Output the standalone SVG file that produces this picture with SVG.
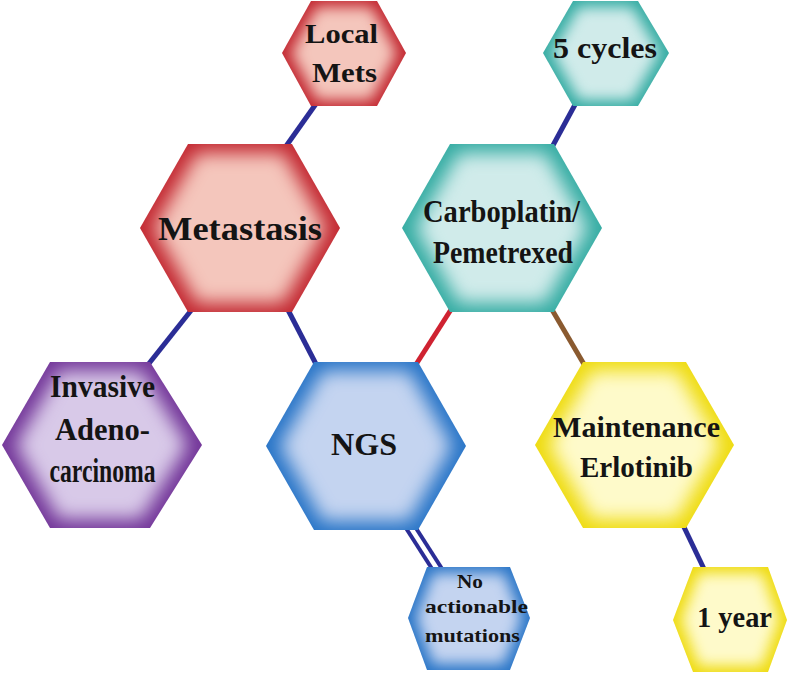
<svg xmlns="http://www.w3.org/2000/svg" width="800" height="675" viewBox="0 0 800 675">
<defs>
<filter id="inner" x="-5%" y="-5%" width="110%" height="110%" color-interpolation-filters="sRGB">
<feMorphology in="SourceGraphic" operator="erode" radius="9" result="e"/>
<feGaussianBlur in="e" stdDeviation="9" result="b"/>
<feComposite in="b" in2="SourceAlpha" operator="in"/>
</filter>
<filter id="inner-s" x="-5%" y="-5%" width="110%" height="110%" color-interpolation-filters="sRGB">
<feMorphology in="SourceGraphic" operator="erode" radius="6" result="e"/>
<feGaussianBlur in="e" stdDeviation="7" result="b"/>
<feComposite in="b" in2="SourceAlpha" operator="in"/>
</filter>
</defs>
<style>
.lbl{font-family:"Liberation Serif","Times New Roman",serif;font-weight:bold;fill:#141414;text-anchor:middle}
.edge{fill:none;stroke-linecap:butt}
.blue{stroke:#2b2d96;stroke-width:5}
.dbl{stroke:#2b2d96;stroke-width:4}
.red{stroke:#cf2231;stroke-width:5}
.brown{stroke:#8a5a30;stroke-width:5}
.red-e{fill:#c42a33}.red-i{fill:#f4c6bc}
.pur-e{fill:#74379a}.pur-i{fill:#d8c9e8}
.blu-e{fill:#2a76c8}.blu-i{fill:#c4d4f0}
.tea-e{fill:#36ada4}.tea-i{fill:#d0ebea}
.yel-e{fill:#efdc10}.yel-i{fill:#fefaca}
</style>
<rect width="800" height="675" fill="#ffffff"/>
<g id="connectors">
<line class="edge blue" x1="318" y1="101" x2="284" y2="149"/>
<line class="edge blue" x1="193" y1="308" x2="147" y2="366"/>
<line class="edge blue" x1="287" y1="308" x2="317" y2="366"/>
<line class="edge red" x1="415" y1="366" x2="452" y2="308"/>
<line class="edge blue" x1="577" y1="101" x2="551" y2="149"/>
<line class="edge brown" x1="551" y1="308" x2="585" y2="366"/>
<line class="edge blue" x1="683" y1="525" x2="705" y2="571"/>
<line class="edge dbl" x1="404" y1="525" x2="436" y2="575"/>
<line class="edge dbl" x1="414" y1="525" x2="446" y2="575"/>
</g>
<g id="local-mets">
<polygon class="red-e" points="282,53 311,1 377,1 406,53 377,106 311,106"/>
<polygon class="red-i" filter="url(#inner-s)" points="282,53 311,1 377,1 406,53 377,106 311,106"/>
<text class="lbl" x="341.5" y="43" font-size="28" textLength="73" lengthAdjust="spacingAndGlyphs">Local</text>
<text class="lbl" x="344.5" y="82" font-size="28" textLength="65" lengthAdjust="spacingAndGlyphs">Mets</text>
</g>
<g id="metastasis">
<polygon class="red-e" points="140,228 188,144 292,144 340,228 292,312 188,312"/>
<polygon class="red-i" filter="url(#inner)" points="140,228 188,144 292,144 340,228 292,312 188,312"/>
<text class="lbl" x="240" y="240" font-size="33" textLength="164" lengthAdjust="spacingAndGlyphs">Metastasis</text>
</g>
<g id="five-cycles">
<polygon class="tea-e" points="543,53 573,1 638,1 669,53 638,106 573,106"/>
<polygon class="tea-i" filter="url(#inner-s)" points="543,53 573,1 638,1 669,53 638,106 573,106"/>
<text class="lbl" x="605" y="58" font-size="29" textLength="104" lengthAdjust="spacingAndGlyphs">5 cycles</text>
</g>
<g id="carboplatin">
<polygon class="tea-e" points="402,228 450,144 554,144 602,228 554,312 450,312"/>
<polygon class="tea-i" filter="url(#inner)" points="402,228 450,144 554,144 602,228 554,312 450,312"/>
<text class="lbl" x="501.5" y="222" font-size="31" textLength="157" lengthAdjust="spacingAndGlyphs">Carboplatin/</text>
<text class="lbl" x="503" y="263" font-size="31" textLength="140" lengthAdjust="spacingAndGlyphs">Pemetrexed</text>
</g>
<g id="invasive">
<polygon class="pur-e" points="2,445 50,362 150,362 202,445 150,528 50,528"/>
<polygon class="pur-i" filter="url(#inner)" points="2,445 50,362 150,362 202,445 150,528 50,528"/>
<text class="lbl" x="102.5" y="397" font-size="32" textLength="105" lengthAdjust="spacingAndGlyphs">Invasive</text>
<text class="lbl" x="102.5" y="440" font-size="32" textLength="95" lengthAdjust="spacingAndGlyphs">Adeno-</text>
<text class="lbl" x="102.5" y="482" font-size="33" textLength="106" lengthAdjust="spacingAndGlyphs">carcinoma</text>
</g>
<g id="ngs">
<polygon class="blu-e" points="266,446 314,362 418,362 466,446 418,530 314,530"/>
<polygon class="blu-i" filter="url(#inner)" points="266,446 314,362 418,362 466,446 418,530 314,530"/>
<text class="lbl" x="364" y="455" font-size="32" textLength="66" lengthAdjust="spacingAndGlyphs">NGS</text>
</g>
<g id="maintenance">
<polygon class="yel-e" points="535,445 583,362 686,362 734,445 686,528 583,528"/>
<polygon class="yel-i" filter="url(#inner)" points="535,445 583,362 686,362 734,445 686,528 583,528"/>
<text class="lbl" x="636.5" y="437" font-size="30" textLength="167" lengthAdjust="spacingAndGlyphs">Maintenance</text>
<text class="lbl" x="636.5" y="477" font-size="30" textLength="113" lengthAdjust="spacingAndGlyphs">Erlotinib</text>
</g>
<g id="no-actionable">
<polygon class="blu-e" points="408,618 427,567 510,567 530,618 510,670 427,670"/>
<polygon class="blu-i" filter="url(#inner-s)" points="408,618 427,567 510,567 530,618 510,670 427,670"/>
<text class="lbl" x="470" y="588" font-size="19" textLength="26" lengthAdjust="spacingAndGlyphs">No</text>
<text class="lbl" x="476.5" y="613" font-size="19" textLength="103" lengthAdjust="spacingAndGlyphs">actionable</text>
<text class="lbl" x="472.5" y="642" font-size="19" textLength="95" lengthAdjust="spacingAndGlyphs">mutations</text>
</g>
<g id="one-year">
<polygon class="yel-e" points="673,620 693,567 768,567 787,620 768,672 693,672"/>
<polygon class="yel-i" filter="url(#inner-s)" points="673,620 693,567 768,567 787,620 768,672 693,672"/>
<text class="lbl" x="734.5" y="627" font-size="29" textLength="75" lengthAdjust="spacingAndGlyphs">1 year</text>
</g>
</svg>
